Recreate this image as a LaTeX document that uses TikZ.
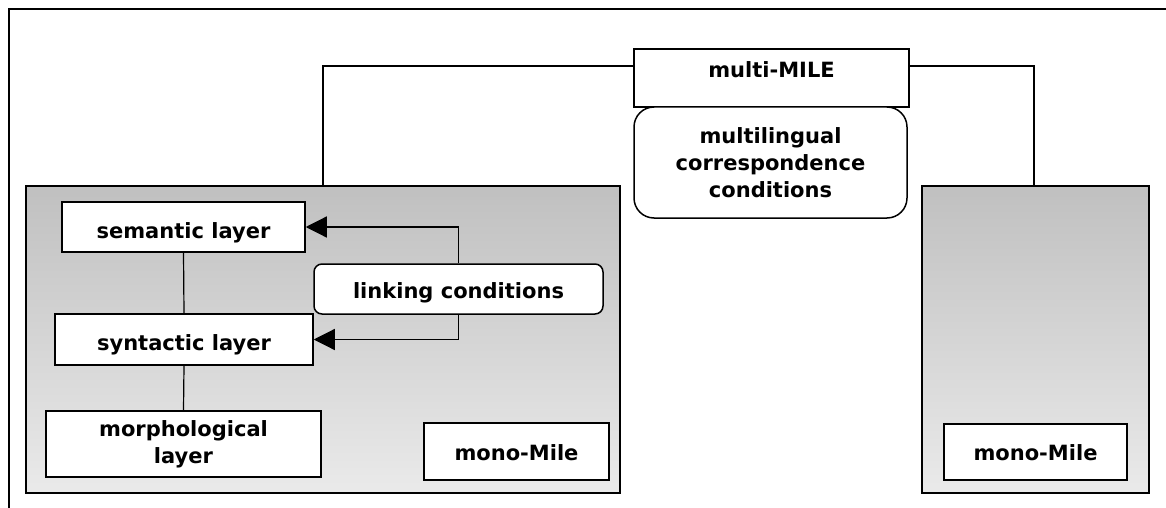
\documentclass[tikz,border=0pt]{standalone}
\usepackage{fontspec}
\setmainfont{DejaVu Sans}
\usetikzlibrary{arrows.meta}
\definecolor{shadetop}{RGB}{192,192,192}
\definecolor{shadebot}{RGB}{234,234,234}
\tikzset{
  x=1pt, y=-1pt,
  every node/.style={font=\fontsize{21}{27}\selectfont\bfseries},
  plainbox/.style={draw, line width=1.5pt, fill=white, inner sep=0pt, align=center},
  graybox/.style={draw, line width=1.5pt, top color=shadetop, bottom color=shadebot, inner sep=0pt},
  roundbox/.style={plainbox, rounded corners=#1},
  conn/.style={line width=1.2pt},
  arr/.style={conn, -{Triangle[length=21pt,width=21pt]}}
}
\begin{document}
\begin{tikzpicture}
\useasboundingbox (0,0) rectangle (1166,508);
% outer frame
\coordinate (ftr) at (1166,9);
\coordinate (ftl) at (9,9);
\coordinate (fbl) at (9,508);
\draw[line width=2pt] (ftr) -- (ftl) -- (fbl);

% mono-Mile containers
\node[graybox, minimum width=594pt, minimum height=307pt] (left) at (323,339.5) {};
\node[graybox, minimum width=227pt, minimum height=307pt] (right) at (1035.5,339.5) {};

% multi-MILE
\node[plainbox, minimum width=275pt, text height=29pt, text depth=29pt] (multi) at (771.5,78) {multi-MILE};
\node[roundbox=20pt, minimum width=273pt, minimum height=111pt] (corr) at (770.5,162.5) {multilingual\\correspondence\\conditions};

% layers
\node[plainbox, minimum width=243pt, text height=36pt, text depth=14pt] (sem) at (183.5,227) {semantic layer};
\node[plainbox, minimum width=258pt, text height=36pt, text depth=15pt] (syn) at (184,339.5) {syntactic layer};
\node[plainbox, minimum width=275pt, minimum height=66pt] (morph) at (183.5,444) {morphological\\layer};
\node[roundbox=8pt, minimum width=289pt, text height=34pt, text depth=16pt] (link) at (458.5,289) {linking conditions};

\node[plainbox, minimum width=185pt, text height=37pt, text depth=20pt] (monoL) at (516.5,451.5) {mono-Mile};
\node[plainbox, minimum width=183pt, text height=36pt, text depth=20pt] (monoR) at (1035.5,452) {mono-Mile};

% connectors
\coordinate (jl) at (323,66);
\coordinate (jr) at (1034,66);
\draw[conn] (jl -| multi.west) -- (jl) -- (jl |- left.north);
\draw[conn] (jr -| multi.east) -- (jr) -- (jr |- right.north);
\draw[conn] (sem.south) -- (syn.north);
\draw[conn] (syn.south) -- (morph.north);
\draw[arr] (link.north) |- (sem.east);
\draw[arr] (link.south) |- (syn.east);
\end{tikzpicture}
\end{document}
